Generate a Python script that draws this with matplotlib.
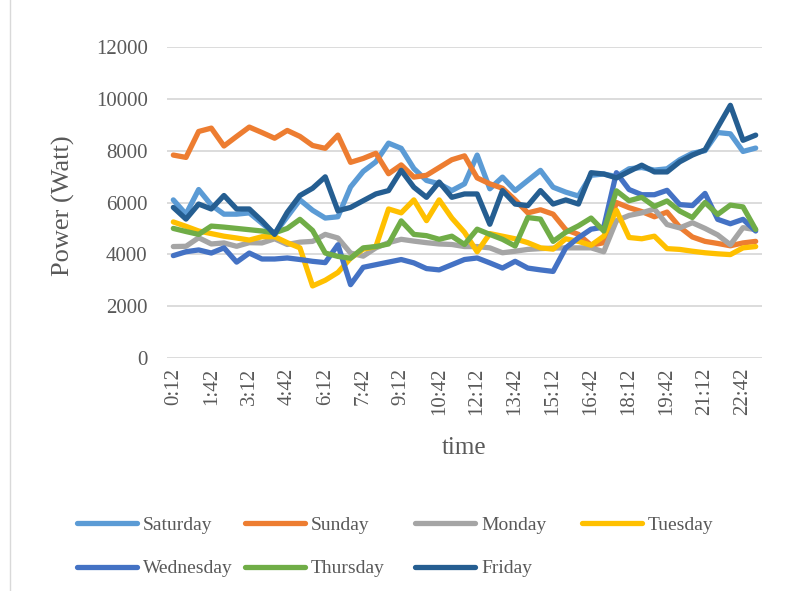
import matplotlib
matplotlib.use("Agg")
import matplotlib.pyplot as plt
from matplotlib.lines import Line2D

# time of day (every 30 min)
times = ['0:12', '0:42', '1:12', '1:42', '2:12', '2:42', '3:12', '3:42', '4:12', '4:42',
         '5:12', '5:42', '6:12', '6:42', '7:12', '7:42', '8:12', '8:42', '9:12', '9:42',
         '10:12', '10:42', '11:12', '11:42', '12:12', '12:42', '13:12', '13:42', '14:12', '14:42',
         '15:12', '15:42', '16:12', '16:42', '17:12', '17:42', '18:12', '18:42', '19:12', '19:42',
         '20:12', '20:42', '21:12', '21:42', '22:12', '22:42', '23:12']

# power per day (Watt)
saturday = [6100, 5550, 6500, 5900, 5550, 5550, 5600, 5200, 4800, 5450, 6100, 5700, 5400, 5450, 6600, 7200,
            7570, 8290, 8090, 7310, 6850, 6720, 6460, 6720, 7830, 6530, 6980, 6460, 6850, 7240, 6590, 6400,
            6250, 7050, 7100, 7000, 7300, 7350, 7250, 7300, 7650, 7900, 8000, 8700, 8650, 7970, 8100]
sunday = [7830, 7740, 8740, 8870, 8180, 8550, 8910, 8700, 8480, 8780, 8550, 8200, 8090, 8600, 7550, 7700,
          7900, 7110, 7450, 6980, 7050, 7350, 7650, 7800, 6950, 6720, 6550, 6100, 5600, 5720, 5550, 4950,
          4770, 4350, 4450, 6000, 5800, 5650, 5450, 5630, 5050, 4670, 4500, 4420, 4330, 4440, 4500]
monday = [4300, 4310, 4640, 4400, 4440, 4310, 4450, 4440, 4600, 4380, 4470, 4500, 4770, 4630, 4050, 3930,
          4250, 4450, 4580, 4510, 4450, 4400, 4380, 4300, 4300, 4250, 4060, 4120, 4190, 4220, 4240, 4250,
          4250, 4250, 4100, 5300, 5500, 5600, 5750, 5150, 5020, 5220, 5000, 4750, 4370, 5030, 4950]
tuesday = [5250, 5080, 4900, 4800, 4700, 4630, 4550, 4680, 4680, 4450, 4250, 2780, 3000, 3300, 3850, 4200,
           4300, 5750, 5600, 6100, 5300, 6100, 5400, 4850, 4100, 4800, 4700, 4600, 4450, 4250, 4200, 4600,
           4500, 4350, 4700, 5700, 4650, 4600, 4700, 4220, 4190, 4120, 4060, 4020, 3990, 4250, 4300]
wednesday = [3950, 4100, 4170, 4050, 4250, 3700, 4050, 3820, 3820, 3860, 3800, 3730, 3680, 4370, 2830, 3500,
             3600, 3700, 3800, 3670, 3450, 3400, 3600, 3800, 3860, 3670, 3470, 3730, 3470, 3400, 3340, 4250,
             4640, 4970, 5050, 7150, 6500, 6300, 6300, 6470, 5920, 5880, 6350, 5350, 5180, 5350, 4900]
thursday = [5000, 4880, 4770, 5090, 5050, 5000, 4950, 4900, 4830, 5000, 5350, 4920, 4050, 3920, 3850, 4250,
            4300, 4400, 5290, 4770, 4720, 4580, 4700, 4380, 4970, 4770, 4580, 4320, 5420, 5360, 4500, 4850,
            5100, 5400, 4900, 6450, 6070, 6200, 5850, 6060, 5670, 5420, 6000, 5540, 5900, 5830, 4960]
friday = [5810, 5360, 5940, 5750, 6270, 5750, 5750, 5290, 4770, 5620, 6270, 6550, 6990, 5680, 5810, 6070,
          6330, 6460, 7240, 6590, 6200, 6790, 6200, 6330, 6330, 5160, 6460, 5940, 5880, 6460, 5940, 6100,
          5940, 7150, 7100, 6950, 7200, 7440, 7180, 7180, 7570, 7830, 8030, 8900, 9750, 8400, 8600]

days = ['Saturday', 'Sunday', 'Monday', 'Tuesday', 'Wednesday', 'Thursday', 'Friday']
series = [saturday, sunday, monday, tuesday, wednesday, thursday, friday]
colors = ['#5B9BD5', '#ED7D31', '#A5A5A5', '#FFC000', '#4472C4', '#70AD47', '#255E91']

plt.rcParams['font.family'] = ['Liberation Serif', 'DejaVu Serif']
txt = '#595959'

fig = plt.figure(figsize=(7.85, 5.91), dpi=100)
ax = fig.add_axes([167 / 785, 1 - 358 / 591, 595 / 785, 311 / 591])

x = list(range(len(times)))
handles = []
for name, vals, c in zip(days, series, colors):
    ln, = ax.plot(x, vals, color=c, lw=3.8, solid_joinstyle='round', solid_capstyle='round', label=name)
    handles.append(ln)

ax.set_xlim(-0.5, len(times) - 0.5)
ax.set_ylim(0, 12000)
ax.set_yticks(range(0, 12001, 2000))
ax.set_xticks(x[::3])
ax.set_xticklabels(times[::3], rotation=90)
ax.grid(axis='y', color='#D9D9D9', lw=1.3)
ax.set_axisbelow(True)
for s in ax.spines.values():
    s.set_visible(False)
ax.tick_params(axis='both', length=0, labelsize=15, colors=txt)
ax.tick_params(axis='y', pad=14)
ax.tick_params(axis='x', pad=7)

ax.set_ylabel('Power (Watt)', fontsize=19, color=txt)
ax.yaxis.set_label_coords(-0.155, 0.49)
ax.set_xlabel('time', fontsize=18, color=txt)
ax.xaxis.set_label_coords(0.5, -0.255)

# legend: four columns of equal width, like the spreadsheet layout
cols = [[0, 4], [1, 5], [2, 6], [3]]
col_x = [77, 245, 415, 582]
for idx, cx in zip(cols, col_x):
    fig.legend([handles[i] for i in idx], [days[i] for i in idx], loc='upper left',
               bbox_to_anchor=(cx / 785, 1 - 516 / 591), frameon=False, fontsize=14,
               handlelength=3.1, handletextpad=0.3, borderpad=0, borderaxespad=0,
               labelspacing=1.35, labelcolor=txt)

fig.add_artist(Line2D([10 / 785, 10 / 785], [0, 1], color='#D9D9D9', lw=1))

fig.savefig('out.png', dpi=100)
